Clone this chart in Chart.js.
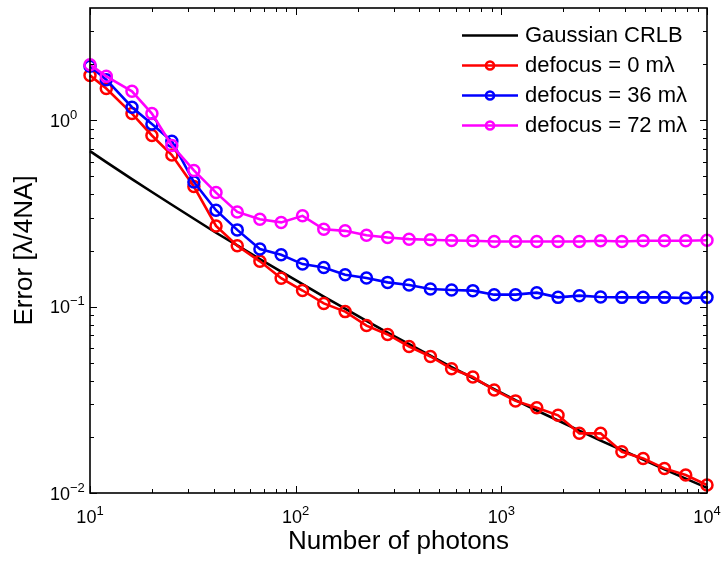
<!DOCTYPE html>
<html>
<head>
<meta charset="utf-8">
<script src="https://cdn.jsdelivr.net/npm/chart.js@4.4.1/dist/chart.umd.min.js"></script>
<style>
    html, body { margin: 0; padding: 0; background: #fff; }
    #wrap { width: 721px; height: 561px; position: relative; }
</style>
</head>
<body>
<div id="wrap"><canvas id="errChart"></canvas></div>
<script>
// ======================
// Data
// ======================
const photons = [10, 12, 16, 20, 25, 32, 41, 52, 67, 85, 108, 137, 174, 221, 280,
    356, 452, 573, 727, 923, 1172, 1487, 1887, 2395, 3039, 3856, 4893, 6210, 7880, 10000];

const gaussCrlb = [0.683, 0.596, 0.483, 0.412, 0.352, 0.296, 0.249, 0.213, 0.180, 0.154,
    0.132, 0.113, 0.0974, 0.0838, 0.0726, 0.0629, 0.0545, 0.0474, 0.0414, 0.0361,
    0.0315, 0.0277, 0.0245, 0.0216, 0.0191, 0.0170, 0.0151, 0.0134, 0.01195, 0.01066];

const defocus0 = [1.74, 1.48, 1.086, 0.828, 0.650, 0.441, 0.271, 0.212, 0.175, 0.142,
    0.122, 0.104, 0.094, 0.0791, 0.0709, 0.0611, 0.0540, 0.0464, 0.0419, 0.0357,
    0.0312, 0.0287, 0.0261, 0.0209, 0.0209, 0.01664, 0.01533, 0.01355, 0.01248, 0.01104];

const defocus36 = [1.95, 1.65, 1.174, 0.955, 0.772, 0.466, 0.329, 0.258, 0.2035, 0.1897,
    0.1691, 0.1622, 0.1483, 0.1424, 0.1349, 0.1306, 0.1244, 0.1228, 0.1218, 0.1159,
    0.1159, 0.1188, 0.1121, 0.1145, 0.1127, 0.1121, 0.1121, 0.1121, 0.1113, 0.1121];

const defocus72 = [1.986, 1.719, 1.429, 1.086, 0.732, 0.538, 0.409, 0.322, 0.294, 0.283,
    0.307, 0.260, 0.255, 0.2416, 0.2348, 0.2301, 0.2282, 0.2264, 0.2254, 0.2235,
    0.2235, 0.2235, 0.2235, 0.2235, 0.2254, 0.2235, 0.2254, 0.2254, 0.2254, 0.2272];

const xTicks = [10, 100, 1000, 10000];
const yTicks = [0.01, 0.1, 1];
const xRange = [10, 10000];
const yRange = [0.01, 4];

const FONT = "'Liberation Sans', Arial, Helvetica, sans-serif";

// minor tick values 2..9 x 10^e inside a range
function minorTicks(lo, hi) {
    const out = [];
    for (let e = Math.floor(Math.log10(lo)); e <= Math.ceil(Math.log10(hi)); e++) {
        for (let m = 2; m <= 9; m++) {
            const v = m * Math.pow(10, e);
            if (v > lo && v < hi) out.push(v);
        }
    }
    return out;
}

// "10" with a raised exponent, like MATLAB's log tick labels
function powLabel(ctx, v, ax, baseY, align) {
    const exp = String(Math.round(Math.log10(v))).replace('-', '\u2212');
    ctx.font = '18px ' + FONT;
    const wBase = ctx.measureText('10').width;
    ctx.font = '13px ' + FONT;
    const wExp = ctx.measureText(exp).width;
    const x0 = align === 'center' ? ax - (wBase + wExp) / 2 : ax - wBase;
    ctx.font = '18px ' + FONT;
    ctx.fillText('10', x0, baseY);
    ctx.font = '13px ' + FONT;
    ctx.fillText(exp, x0 + wBase, baseY - 8);
}

// ======================
// Box, inward ticks, tick labels and legend (MATLAB look)
// ======================
const matlabBox = {
    id: 'matlabBox',
    afterDatasetsDraw(chart) {
        const { ctx, chartArea: a, scales: { x, y } } = chart;
        ctx.save();
        ctx.strokeStyle = '#000';
        ctx.lineWidth = 1;
        ctx.beginPath();
        const tickX = (v, len) => {
            const px = Math.round(x.getPixelForValue(v)) + 0.5;
            ctx.moveTo(px, a.bottom); ctx.lineTo(px, a.bottom - len);
            ctx.moveTo(px, a.top); ctx.lineTo(px, a.top + len);
        };
        const tickY = (v, len) => {
            const py = Math.round(y.getPixelForValue(v)) + 0.5;
            ctx.moveTo(a.left, py); ctx.lineTo(a.left + len, py);
            ctx.moveTo(a.right, py); ctx.lineTo(a.right - len, py);
        };
        xTicks.forEach(v => tickX(v, 7));
        minorTicks(xRange[0], xRange[1]).forEach(v => tickX(v, 4));
        yTicks.forEach(v => tickY(v, 7));
        minorTicks(yRange[0], yRange[1]).forEach(v => tickY(v, 4));
        ctx.stroke();

        ctx.lineWidth = 1.6;
        ctx.strokeRect(a.left, a.top, a.right - a.left, a.bottom - a.top);

        // tick labels
        ctx.fillStyle = '#000';
        ctx.textAlign = 'left';
        ctx.textBaseline = 'alphabetic';
        x.ticks.forEach(t => powLabel(ctx, t.value, x.getPixelForValue(t.value), a.bottom + 30, 'center'));
        y.ticks.forEach(t => powLabel(ctx, t.value, a.left - 20, y.getPixelForValue(t.value) + 6.5, 'right'));

        // legend
        ctx.font = '22px ' + FONT;
        ctx.textBaseline = 'middle';
        chart.data.datasets.forEach((ds, i) => {
            const ry = a.top + 27.5 + 30 * i;
            const x0 = a.right - 245, x1 = a.right - 189, xm = (x0 + x1) / 2;
            ctx.strokeStyle = ds.borderColor;
            ctx.lineWidth = ds.borderWidth;
            ctx.beginPath();
            ctx.moveTo(x0, ry); ctx.lineTo(x1, ry);
            ctx.stroke();
            if (ds.pointRadius > 0) {
                ctx.beginPath();
                ctx.arc(xm, ry, 4, 0, Math.PI * 2);
                ctx.stroke();
            }
            ctx.fillStyle = '#000';
            ctx.fillText(ds.label, a.right - 182, ry);
        });
        ctx.restore();
    }
};

// ======================
// Chart
// ======================
function series(label, values, color, marker) {
    return {
        label: label,
        data: values.map((v, i) => ({ x: photons[i], y: v })),
        borderColor: color,
        backgroundColor: 'transparent',
        borderWidth: 2.6,
        pointRadius: marker ? 5.5 : 0,
        pointBorderWidth: 2.5,
        pointBorderColor: color,
        pointBackgroundColor: 'transparent',
        tension: 0,
        clip: false
    };
}

const datasets = [
    series('Gaussian CRLB', gaussCrlb, '#000000', false),
    series('defocus = 0 m\u03BB', defocus0, '#ff0000', true),
    series('defocus = 36 m\u03BB', defocus36, '#0000ff', true),
    series('defocus = 72 m\u03BB', defocus72, '#ff00ff', true)
];
// MATLAB draws later lines on top
datasets.forEach((ds, i) => { ds.order = datasets.length - i; });

new Chart(document.getElementById('errChart'), {
    type: 'line',
    data: { datasets: datasets },
    options: {
        responsive: true,
        maintainAspectRatio: false,
        animation: false,
        layout: { padding: { top: 6, right: 14, bottom: 0, left: 0 } },
        plugins: {
            legend: { display: false },
            tooltip: { enabled: false }
        },
        scales: {
            x: {
                type: 'logarithmic',
                min: xRange[0],
                max: xRange[1],
                afterBuildTicks: s => { s.ticks = xTicks.map(v => ({ value: v })); },
                afterFit: s => { s.height = 68; s.paddingLeft = 0; s.paddingRight = 0; },
                grid: { display: false, drawTicks: false },
                border: { display: false },
                ticks: { display: false },
                title: {
                    display: true,
                    text: 'Number of photons',
                    color: '#000',
                    font: { size: 26, family: FONT },
                    padding: { top: 0, bottom: 4 }
                }
            },
            y: {
                type: 'logarithmic',
                min: yRange[0],
                max: yRange[1],
                afterBuildTicks: s => { s.ticks = yTicks.map(v => ({ value: v })); },
                afterFit: s => { s.width = 90; s.paddingTop = 0; s.paddingBottom = 0; },
                grid: { display: false, drawTicks: false },
                border: { display: false },
                ticks: { display: false },
                title: {
                    display: true,
                    text: 'Error [\u03BB/4NA]',
                    color: '#000',
                    font: { size: 26, family: FONT },
                    padding: { top: 9, bottom: 0 }
                }
            }
        }
    },
    plugins: [matlabBox]
});
</script>
</body>
</html>
